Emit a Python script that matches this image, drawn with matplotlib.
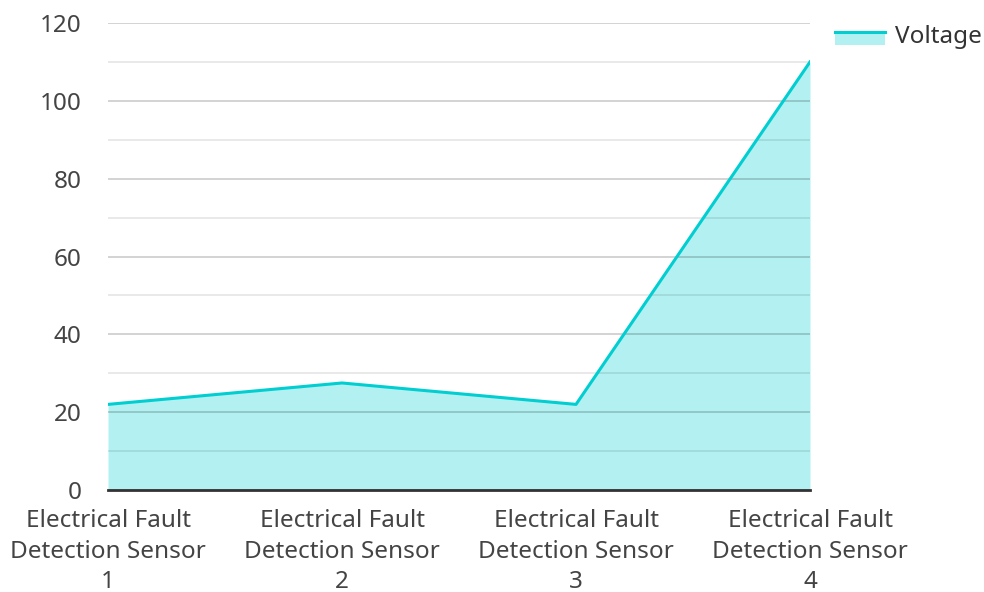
import matplotlib.pyplot as plt
from matplotlib.lines import Line2D
from matplotlib.patches import Rectangle
from matplotlib.legend_handler import HandlerBase

sensors = ['Electrical Fault\nDetection Sensor\n1', 'Electrical Fault\nDetection Sensor\n2',
           'Electrical Fault\nDetection Sensor\n3', 'Electrical Fault\nDetection Sensor\n4']
voltage = [22, 27.5, 22, 110]

plt.rcParams['font.family'] = ['Noto Sans', 'DejaVu Sans']

LINE_COLOR = '#00CED1'
FONT_SIZE = 17.5


class AreaHandler(HandlerBase):
    """Legend key: a line sitting on top of a translucent area swatch."""

    def create_artists(self, legend, orig_handle, xdescent, ydescent,
                       width, height, fontsize, trans):
        x0, y0 = -xdescent, -ydescent
        top = y0 + 0.62 * height
        bottom = y0 - 0.1 * height
        rect = Rectangle((x0, bottom), width, top - bottom, facecolor=LINE_COLOR,
                         alpha=0.3, edgecolor='none', transform=trans)
        line = Line2D([x0, x0 + width], [top, top], color=LINE_COLOR,
                      linewidth=2.2, transform=trans)
        return [rect, line]


fig = plt.figure(figsize=(9.84, 5.92), dpi=100)
ax = fig.add_axes([108 / 984, 1 - 490 / 592, (810 - 108) / 984, (490 - 23) / 592])

x = list(range(len(sensors)))
ax.fill_between(x, voltage, 0, color=LINE_COLOR, alpha=0.3, linewidth=0, zorder=1)
area_line, = ax.plot(x, voltage, color=LINE_COLOR, linewidth=2.2, zorder=3)

ax.set_xlim(0, 3)
ax.set_ylim(0, 120)
ax.set_yticks(range(0, 121, 20))
ax.set_yticks(range(10, 120, 20), minor=True)
ax.set_xticks(x)
ax.set_xticklabels(sensors)

ax.grid(axis='y', which='major', color='#000000', alpha=0.2, linewidth=1.2, zorder=2)
ax.grid(axis='y', which='minor', color='#000000', alpha=0.1, linewidth=1.2, zorder=2)
ax.set_axisbelow(False)

for side in ['top', 'right', 'left']:
    ax.spines[side].set_visible(False)
ax.spines['bottom'].set_color('#333333')
ax.spines['bottom'].set_linewidth(2)
ax.spines['bottom'].set_zorder(4)

ax.tick_params(axis='both', which='both', length=0, labelsize=FONT_SIZE, colors='#444444')
ax.tick_params(axis='y', pad=19)
ax.tick_params(axis='x', pad=14)
for lbl in ax.get_xticklabels():
    lbl.set_linespacing(1.34)

fig.legend([area_line], ['Voltage'], loc='center left',
           bbox_to_anchor=(835 / 984, 1 - 37 / 592),
           handler_map={area_line: AreaHandler()},
           frameon=False, fontsize=FONT_SIZE, handlelength=2.06, handletextpad=0.41,
           borderpad=0, borderaxespad=0, labelcolor='#333333')

fig.savefig('out.png', dpi=100)
